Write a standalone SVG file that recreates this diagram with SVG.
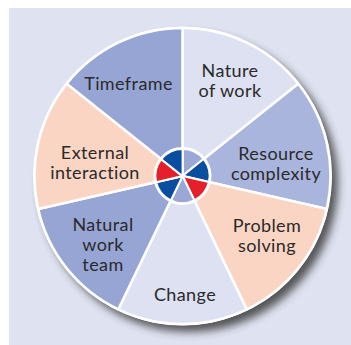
<svg xmlns="http://www.w3.org/2000/svg" width="351" height="345" viewBox="0 0 351 345">
<defs>
<filter id="sh" x="-20%" y="-20%" width="140%" height="140%">
<feGaussianBlur stdDeviation="4"/>
</filter>
<style>
.seg{stroke:#fff;stroke-width:2.5;stroke-linejoin:round}
.lt{fill:#dde1f1}.md{fill:#aab5dd}.dk{fill:#97a5d5}.pc{fill:#fbd5c4}
.hb{fill:#0a4f9f}.hr{fill:#e61f2d}.hl{fill:#9ba8d6}
.hub{stroke:#fff;stroke-width:1.8;stroke-linejoin:round}
text{font-family:Lato,"Liberation Sans",sans-serif;font-size:18px;letter-spacing:0.4px;fill:#2a2a2a;text-anchor:middle}
</style>
</defs>
<rect x="9" y="8" width="342" height="337" fill="#dfe3f1"/>
<circle cx="189" cy="183" r="149" fill="#333" opacity="0.8" filter="url(#sh)"/>
<circle cx="182.5" cy="176" r="149.5" fill="#fff"/>
<g id="nature-of-work">
<path class="seg lt" d="M182.5,176 L182.5,28 A148,148 0 0 1 298.21,83.72 Z"/>
<path class="hub hl" d="M182.5,176 L182.5,149 A27,27 0 0 1 203.61,159.17 Z"/>
<text x="230" y="77">Nature</text><text x="230" y="97">of work</text>
</g>
<g id="resource-complexity">
<path class="seg md" d="M182.5,176 L298.21,83.72 A148,148 0 0 1 326.79,208.93 Z"/>
<path class="hub hb" d="M182.5,176 L203.61,159.17 A27,27 0 0 1 208.82,182.01 Z"/>
<text x="276" y="160">Resource</text><text x="276" y="180">complexity</text>
</g>
<g id="problem-solving">
<path class="seg pc" d="M182.5,176 L326.79,208.93 A148,148 0 0 1 246.71,309.34 Z"/>
<path class="hub hr" d="M182.5,176 L208.82,182.01 A27,27 0 0 1 194.21,200.33 Z"/>
<text x="267" y="232">Problem</text><text x="267" y="252">solving</text>
</g>
<g id="change">
<path class="seg lt" d="M182.5,176 L246.71,309.34 A148,148 0 0 1 118.29,309.34 Z"/>
<path class="hub hl" d="M182.5,176 L194.21,200.33 A27,27 0 0 1 170.79,200.33 Z"/>
<text x="185" y="301">Change</text>
</g>
<g id="natural-work-team">
<path class="seg dk" d="M182.5,176 L118.29,309.34 A148,148 0 0 1 38.21,208.93 Z"/>
<path class="hub hb" d="M182.5,176 L170.79,200.33 A27,27 0 0 1 156.18,182.01 Z"/>
<text x="103" y="231">Natural</text><text x="103" y="251">work</text><text x="103" y="271">team</text>
</g>
<g id="external-interaction">
<path class="seg pc" d="M182.5,176 L38.21,208.93 A148,148 0 0 1 66.79,83.72 Z"/>
<path class="hub hr" d="M182.5,176 L156.18,182.01 A27,27 0 0 1 161.39,159.17 Z"/>
<text x="95" y="159">External</text><text x="95" y="179">interaction</text>
</g>
<g id="timeframe">
<path class="seg dk" d="M182.5,176 L66.79,83.72 A148,148 0 0 1 182.5,28 Z"/>
<path class="hub hb" d="M182.5,176 L161.39,159.17 A27,27 0 0 1 182.5,149 Z"/>
<text x="128.5" y="90">Timeframe</text>
</g>
<g id="connectors">
<circle cx="182.5" cy="176" r="28" fill="none" stroke="#fff" stroke-width="2"/>
</g>
</svg>
